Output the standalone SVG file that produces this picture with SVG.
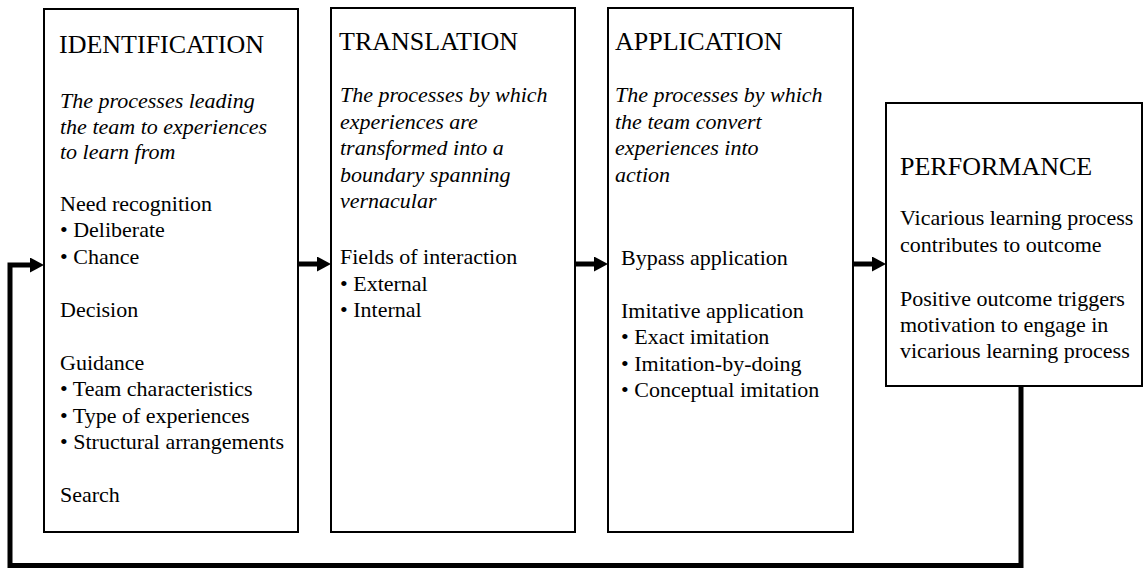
<svg xmlns="http://www.w3.org/2000/svg" width="1145" height="568" viewBox="0 0 1145 568">
<defs>
<style>
.box{fill:#fff;stroke:#000;stroke-width:2}
text{font-family:"Liberation Serif","Times New Roman",serif;fill:#000;font-size:22px}
.h{font-size:26px}
.i{font-style:italic}
.conn{fill:none;stroke:#000;stroke-width:5}
</style>
<marker id="ah" markerUnits="userSpaceOnUse" markerWidth="15" markerHeight="16" refX="0" refY="7.5" orient="auto" viewBox="0 0 15 16">
<path d="M0,0 L14,7.5 L0,15 z" fill="#000"/>
</marker>
</defs>
<rect width="1145" height="568" fill="#fff"/>
<g id="identification">
<rect class="box" x="44" y="9" width="254" height="523"/>
<text class="h" x="59" y="53">IDENTIFICATION</text>
<text class="i" x="60" y="108">The processes leading</text>
<text class="i" x="60" y="134">the team to experiences</text>
<text class="i" x="60" y="159">to learn from</text>
<text x="60" y="211">Need recognition</text>
<text x="60" y="237">• Deliberate</text>
<text x="60" y="263.5">• Chance</text>
<text x="60" y="316.5">Decision</text>
<text x="60" y="369.5">Guidance</text>
<text x="60" y="396">• Team characteristics</text>
<text x="60" y="422.5">• Type of experiences</text>
<text x="60" y="449">• Structural arrangements</text>
<text x="60" y="502">Search</text>
</g>
<g id="translation">
<rect class="box" x="331" y="8" width="244" height="524"/>
<text class="h" x="339" y="50">TRANSLATION</text>
<text class="i" x="340" y="102">The processes by which</text>
<text class="i" x="340" y="128.5">experiences are</text>
<text class="i" x="340" y="155">transformed into a</text>
<text class="i" x="340" y="181.5">boundary spanning</text>
<text class="i" x="340" y="208">vernacular</text>
<text x="340" y="264">Fields of interaction</text>
<text x="340" y="290.5">• External</text>
<text x="340" y="317">• Internal</text>
</g>
<g id="application">
<rect class="box" x="608" y="8" width="245" height="524"/>
<text class="h" x="615" y="50">APPLICATION</text>
<text class="i" x="615" y="102">The processes by which</text>
<text class="i" x="615" y="128.5">the team convert</text>
<text class="i" x="615" y="155">experiences into</text>
<text class="i" x="615" y="181.5">action</text>
<text x="621" y="265">Bypass application</text>
<text x="621" y="317.5">Imitative application</text>
<text x="621" y="344">• Exact imitation</text>
<text x="621" y="370.5">• Imitation-by-doing</text>
<text x="621" y="397">• Conceptual imitation</text>
</g>
<g id="performance">
<rect class="box" x="886" y="103" width="256" height="283"/>
<text class="h" x="900" y="175">PERFORMANCE</text>
<text x="900" y="225">Vicarious learning process</text>
<text x="900" y="252">contributes to outcome</text>
<text x="900" y="306">Positive outcome triggers</text>
<text x="900" y="332">motivation to engage in</text>
<text x="900" y="358">vicarious learning process</text>
</g>
<g id="connectors">
<line class="conn" x1="298" y1="264" x2="317" y2="264" marker-end="url(#ah)"/>
<line class="conn" x1="575" y1="264" x2="594" y2="264" marker-end="url(#ah)"/>
<line class="conn" x1="853" y1="264" x2="872" y2="264" marker-end="url(#ah)"/>
<path class="conn" d="M1021,387 V565.5 H10 V265 H30" marker-end="url(#ah)"/>
</g>
</svg>
